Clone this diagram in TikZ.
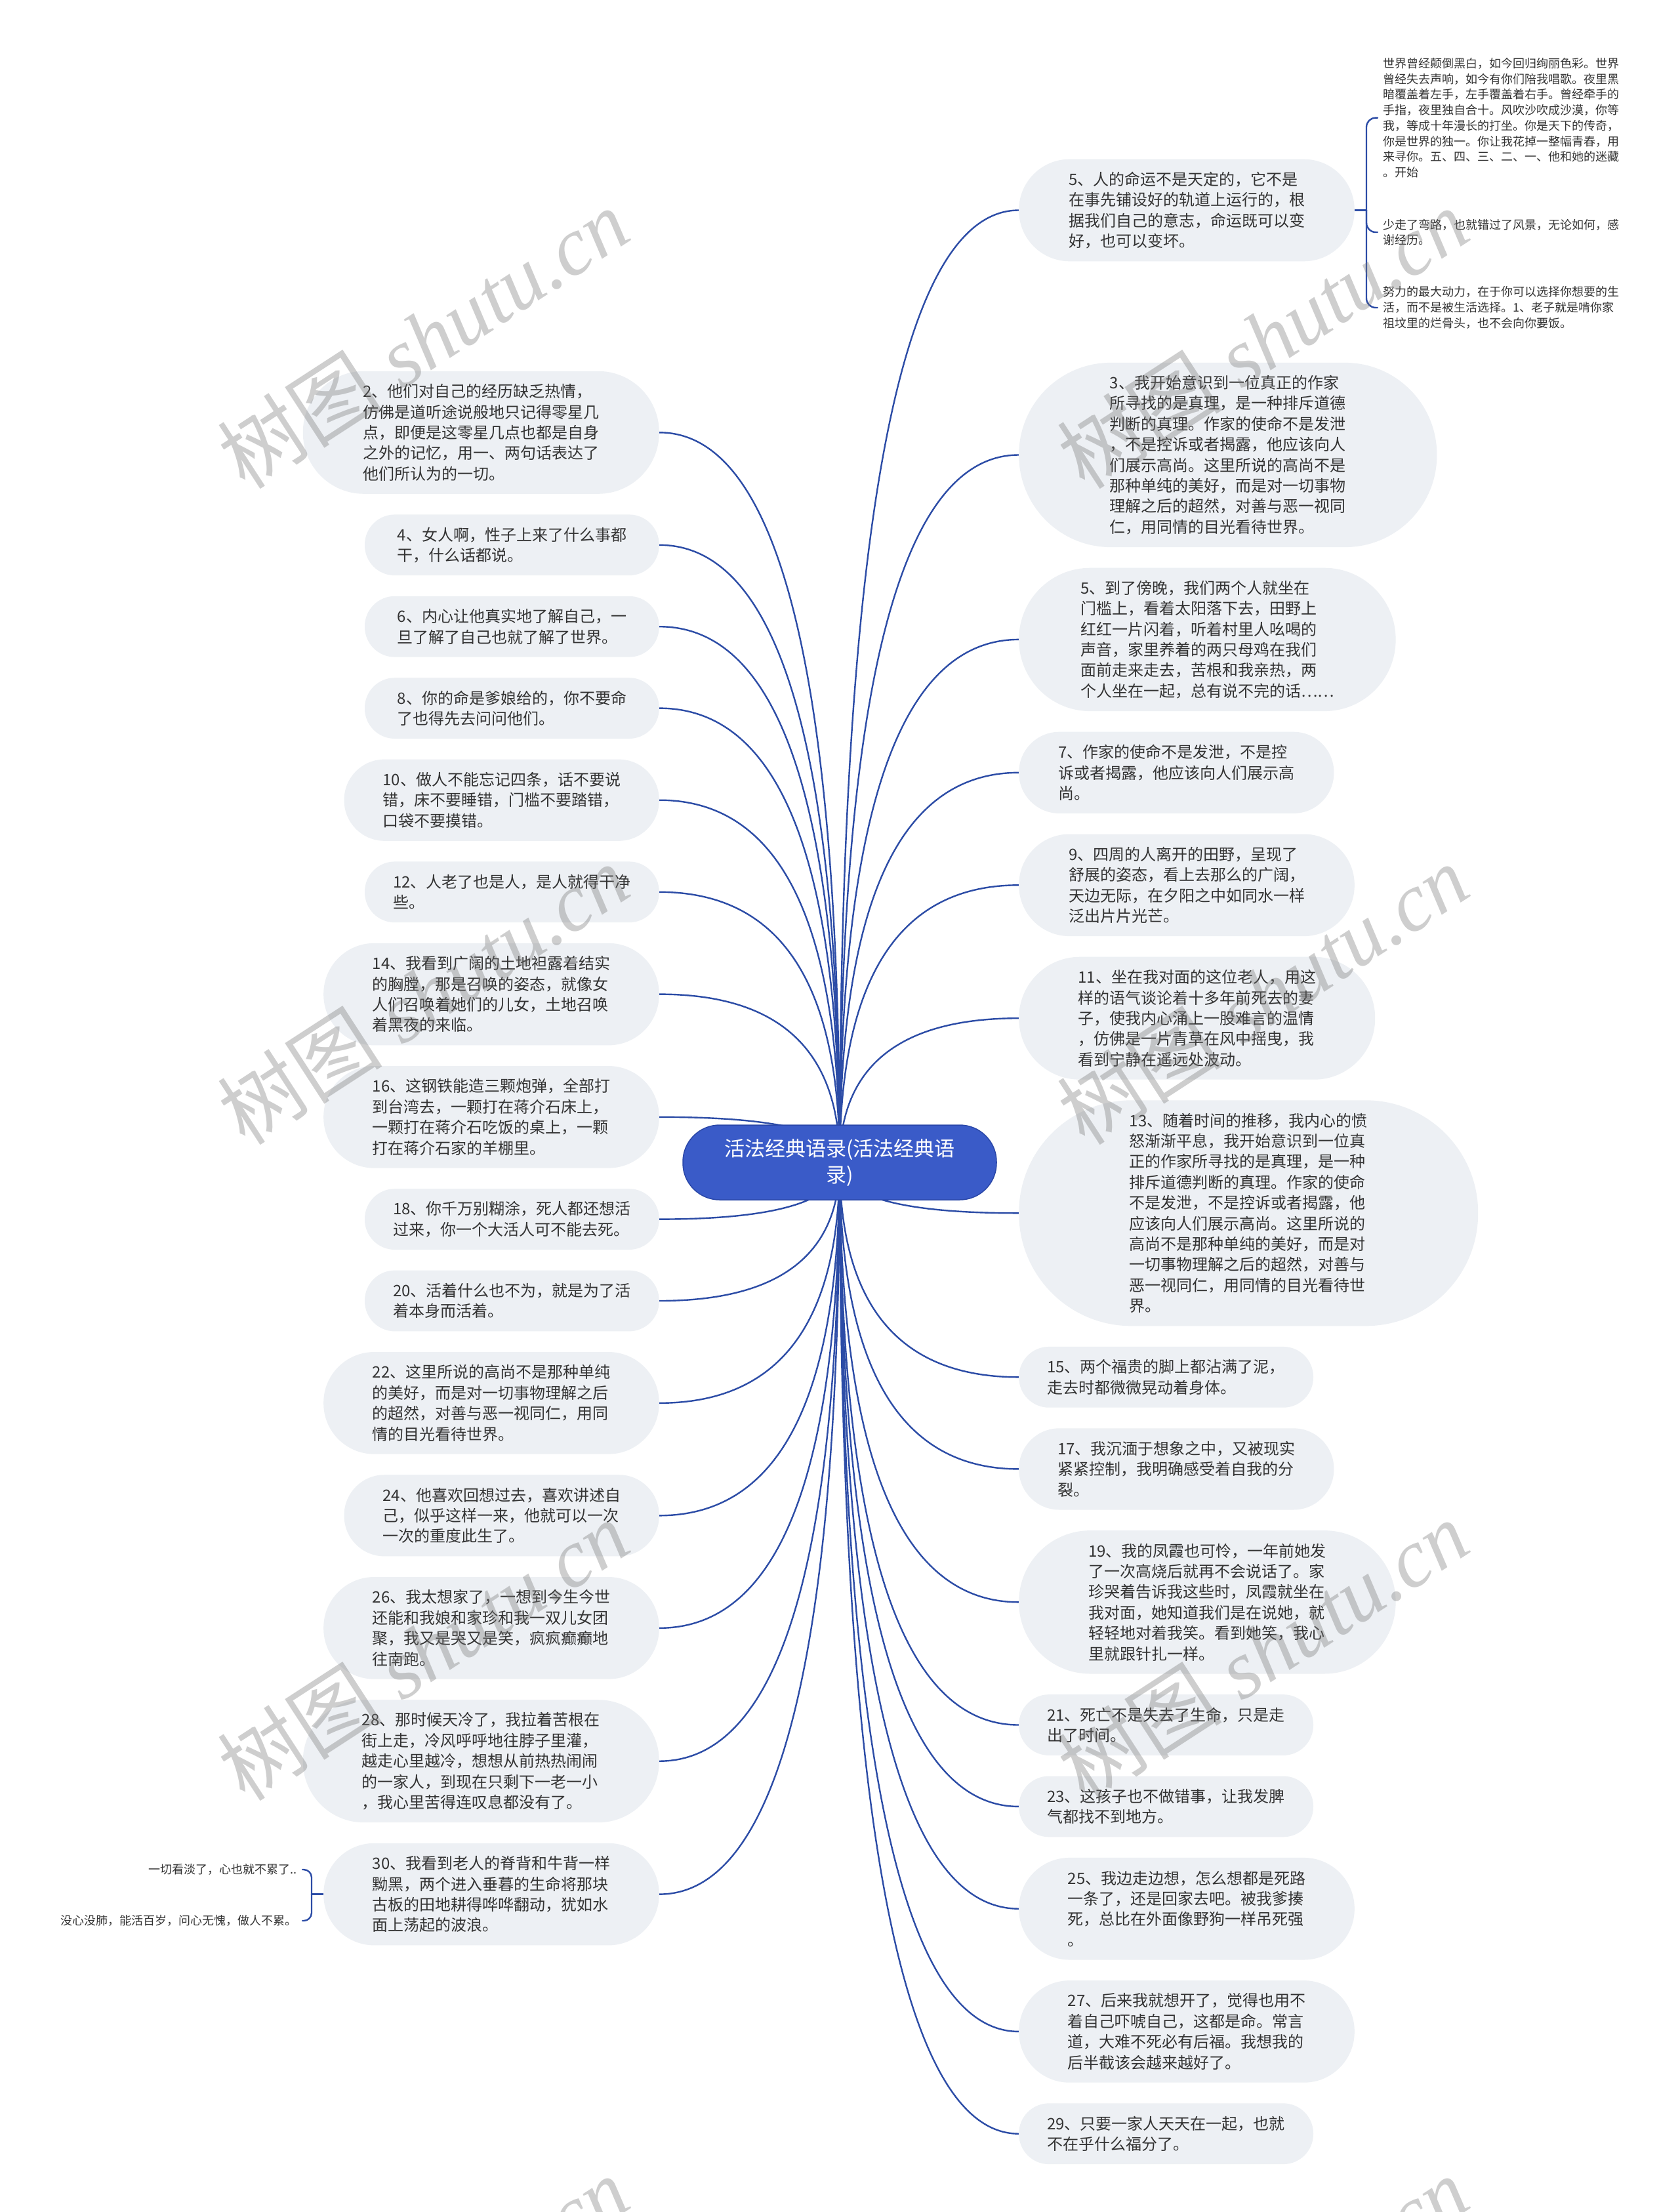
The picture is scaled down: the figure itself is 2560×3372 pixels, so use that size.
\documentclass[tikz,border=0pt]{standalone}
\usepackage{fontspec}
\setmainfont{Noto Sans CJK SC}
\newfontfamily\wmlatin{Liberation Serif}
\usetikzlibrary{calc}
\definecolor{nodefill}{HTML}{EDF0F4}
\definecolor{linkblue}{HTML}{2C4CA6}
\definecolor{ctrblue}{HTML}{3A5BC8}
\definecolor{ctrline}{HTML}{2A47A8}
\definecolor{txt}{HTML}{333333}
\pgfdeclarelayer{bg}\pgfdeclarelayer{fg}\pgfsetlayers{bg,main,fg}
\newcommand\topicfont{\fontsize{24}{31.4}\selectfont}
\newcommand\leaffont{\fontsize{18}{23.7}\selectfont}
\tikzset{
  topic/.style={fill=nodefill, text=txt, font=\topicfont, align=left, inner sep=0pt},
  leafnode/.style={text=txt, font=\leaffont, align=left, inner xsep=8pt, inner ysep=4pt},
  link/.style={draw=linkblue, line width=2.4pt, line cap=round},
  ctrnode/.style={fill=ctrblue, draw=ctrline, line width=1.5pt, text=white, font=\fontsize{31}{40}\selectfont, align=center, minimum width=478pt, minimum height=114pt, rounded corners=56pt, inner sep=0pt},
  wm/.style={text=black!55, text opacity=0.35, font=\fontsize{126}{130}\selectfont, rotate=33, inner sep=0pt}
}
\newcommand\tnode[6]{%
  \pgfmathsetmacro\hh{31.4*#5+30}%
  \pgfmathsetmacro\ww{356+\hh}%
  \pgfmathsetmacro\rr{\hh/2-0.5}%
  \node[topic, anchor=#2, minimum width=\ww pt, minimum height=\hh pt, rounded corners=\rr pt] (#1) at (#3,#4) {#6};%
}
\newcommand\mmlink[2]{%
  \coordinate (mmk) at (#1 |- #2);%
  \draw[link] (#1) .. controls ($(#1)!0.6667!(mmk)$) and ($(#2)!0.6667!(mmk)$) .. (#2);%
}
\begin{document}
\begin{tikzpicture}[x=1pt,y=-1pt]
\begin{pgfonlayer}{bg}
\fill[white] (0,0) rectangle (2560,3372);
\end{pgfonlayer}
\useasboundingbox (0,0) rectangle (2560,3372);

\node[ctrnode] (ctr) at (1280,1772) {活法经典语录(活法经典语\\录)};

% right side
\tnode{R5}{west}{1553}{320.5}{4}{5、人的命运不是天定的，它不是\\在事先铺设好的轨道上运行的，根\\据我们自己的意志，命运既可以变\\好，也可以变坏。}
\tnode{R3}{west}{1553}{693.5}{8}{3、我开始意识到一位真正的作家\\所寻找的是真理，是一种排斥道德\\判断的真理。作家的使命不是发泄\\，不是控诉或者揭露，他应该向人\\们展示高尚。这里所说的高尚不是\\那种单纯的美好，而是对一切事物\\理解之后的超然，对善与恶一视同\\仁，用同情的目光看待世界。}
\tnode{R5b}{west}{1553}{974.9}{6}{5、到了傍晚，我们两个人就坐在\\门槛上，看着太阳落下去，田野上\\红红一片闪着，听着村里人吆喝的\\声音，家里养着的两只母鸡在我们\\面前走来走去，苦根和我亲热，两\\个人坐在一起，总有说不完的话……}
\tnode{R7}{west}{1553}{1177.8}{3}{7、作家的使命不是发泄，不是控\\诉或者揭露，他应该向人们展示高\\尚。}
\tnode{R9}{west}{1553}{1349.3}{4}{9、四周的人离开的田野，呈现了\\舒展的姿态，看上去那么的广阔，\\天边无际，在夕阳之中如同水一样\\泛出片片光芒。}
\tnode{R11}{west}{1553}{1552.2}{5}{11、坐在我对面的这位老人，用这\\样的语气谈论着十多年前死去的妻\\子，使我内心涌上一股难言的温情\\，仿佛是一片青草在风中摇曳，我\\看到宁静在遥远处波动。}
\tnode{R13}{west}{1553}{1849.3}{10}{13、随着时间的推移，我内心的愤\\怒渐渐平息，我开始意识到一位真\\正的作家所寻找的是真理，是一种\\排斥道德判断的真理。作家的使命\\不是发泄，不是控诉或者揭露，他\\应该向人们展示高尚。这里所说的\\高尚不是那种单纯的美好，而是对\\一切事物理解之后的超然，对善与\\恶一视同仁，用同情的目光看待世\\界。}
\tnode{R15}{west}{1553}{2099.3}{2}{15、两个福贵的脚上都沾满了泥，\\走去时都微微晃动着身体。}
\tnode{R17}{west}{1553}{2239.4}{3}{17、我沉湎于想象之中，又被现实\\紧紧控制，我明确感受着自我的分\\裂。}
\tnode{R19}{west}{1553}{2442.3}{6}{19、我的凤霞也可怜，一年前她发\\了一次高烧后就再不会说话了。家\\珍哭着告诉我这些时，凤霞就坐在\\我对面，她知道我们是在说她，就\\轻轻地对着我笑。看到她笑，我心\\里就跟针扎一样。}
\tnode{R21}{west}{1553}{2629.5}{2}{21、死亡不是失去了生命，只是走\\出了时间。}
\tnode{R23}{west}{1553}{2753.9}{2}{23、这孩子也不做错事，让我发脾\\气都找不到地方。}
\tnode{R25}{west}{1553}{2909.7}{4}{25、我边走边想，怎么想都是死路\\一条了，还是回家去吧。被我爹揍\\死，总比在外面像野狗一样吊死强\\。}
\tnode{R27}{west}{1553}{3096.9}{4}{27、后来我就想开了，觉得也用不\\着自己吓唬自己，这都是命。常言\\道，大难不死必有后福。我想我的\\后半截该会越来越好了。}
\tnode{R29}{west}{1553}{3252.7}{2}{29、只要一家人天天在一起，也就\\不在乎什么福分了。}

% left side
\tnode{L2}{east}{1005}{659.3}{5}{2、他们对自己的经历缺乏热情，\\仿佛是道听途说般地只记得零星几\\点，即便是这零星几点也都是自身\\之外的记忆，用一、两句话表达了\\他们所认为的一切。}
\tnode{L4}{east}{1005}{830.8}{2}{4、女人啊，性子上来了什么事都\\干，什么话都说。}
\tnode{L6}{east}{1005}{955.2}{2}{6、内心让他真实地了解自己，一\\旦了解了自己也就了解了世界。}
\tnode{L8}{east}{1005}{1079.6}{2}{8、你的命是爹娘给的，你不要命\\了也得先去问问他们。}
\tnode{L10}{east}{1005}{1219.7}{3}{10、做人不能忘记四条，话不要说\\错，床不要睡错，门槛不要踏错，\\口袋不要摸错。}
\tnode{L12}{east}{1005}{1359.8}{2}{12、人老了也是人，是人就得干净\\些。}
\tnode{L14}{east}{1005}{1515.6}{4}{14、我看到广阔的土地袒露着结实\\的胸膛，那是召唤的姿态，就像女\\人们召唤着她们的儿女，土地召唤\\着黑夜的来临。}
\tnode{L16}{east}{1005}{1702.8}{4}{16、这钢铁能造三颗炮弹，全部打\\到台湾去，一颗打在蒋介石床上，\\一颗打在蒋介石吃饭的桌上，一颗\\打在蒋介石家的羊棚里。}
\tnode{L18}{east}{1005}{1858.6}{2}{18、你千万别糊涂，死人都还想活\\过来，你一个大活人可不能去死。}
\tnode{L20}{east}{1005}{1983.0}{2}{20、活着什么也不为，就是为了活\\着本身而活着。}
\tnode{L22}{east}{1005}{2138.8}{4}{22、这里所说的高尚不是那种单纯\\的美好，而是对一切事物理解之后\\的超然，对善与恶一视同仁，用同\\情的目光看待世界。}
\tnode{L24}{east}{1005}{2310.3}{3}{24、他喜欢回想过去，喜欢讲述自\\己，似乎这样一来，他就可以一次\\一次的重度此生了。}
\tnode{L26}{east}{1005}{2481.8}{4}{26、我太想家了，一想到今生今世\\还能和我娘和家珍和我一双儿女团\\聚，我又是哭又是笑，疯疯癫癫地\\往南跑。}
\tnode{L28}{east}{1005}{2684.7}{5}{28、那时候天冷了，我拉着苦根在\\街上走，冷风呼呼地往脖子里灌，\\越走心里越冷，想想从前热热闹闹\\的一家人，到现在只剩下一老一小\\，我心里苦得连叹息都没有了。}
\tnode{L30}{east}{1005}{2887.6}{4}{30、我看到老人的脊背和牛背一样\\黝黑，两个进入垂暮的生命将那块\\古板的田地耕得哗哗翻动，犹如水\\面上荡起的波浪。}

% leaves of R5
\node[leafnode, anchor=west] (ra) at (2100,179.6) {世界曾经颠倒黑白，如今回归绚丽色彩。世界\\曾经失去声响，如今有你们陪我唱歌。夜里黑\\暗覆盖着左手，左手覆盖着右手。曾经牵手的\\手指，夜里独自合十。风吹沙吹成沙漠，你等\\我，等成十年漫长的打坐。你是天下的传奇，\\你是世界的独一。你让我花掉一整幅青春，用\\来寻你。五、四、三、二、一、他和她的迷藏\\。开始};
\node[leafnode, anchor=west] (rb) at (2100,354) {少走了弯路，也就错过了风景，无论如何，感\\谢经历。};
\node[leafnode, anchor=west] (rc) at (2100,469) {努力的最大动力，在于你可以选择你想要的生\\活，而不是被生活选择。1、老子就是啃你家\\祖坟里的烂骨头，也不会向你要饭。};
% leaves of L30
\node[leafnode, anchor=east, align=right] (la) at (461,2850) {一切看淡了，心也就不累了..};
\node[leafnode, anchor=east, align=right] (lb) at (461,2928) {没心没肺，能活百岁，问心无愧，做人不累。};

\begin{pgfonlayer}{bg}
\foreach \t in {R5,R3,R5b,R7,R9,R11,R13,R15,R17,R19,R21,R23,R25,R27,R29}{\mmlink{ctr.center}{\t.west}}
\foreach \t in {L2,L4,L6,L8,L10,L12,L14,L16,L18,L20,L22,L24,L26,L28,L30}{\mmlink{ctr.center}{\t.east}}
\coordinate (r5j) at ($(R5.east)+(18,0)$);
\draw[link] (R5.east) -- (r5j);
\draw[link, rounded corners=14pt] (r5j) |- (ra.west);
\draw[link, rounded corners=14pt] (r5j) |- (rb.west);
\draw[link, rounded corners=14pt] (r5j) |- (rc.west);
\coordinate (l30j) at ($(L30.west)+(-18,0)$);
\draw[link] (L30.west) -- (l30j);
\draw[link, rounded corners=12pt] (l30j) |- (la.east);
\draw[link, rounded corners=12pt] (l30j) |- (lb.east);
\end{pgfonlayer}

\begin{pgfonlayer}{fg}
\begin{scope}
\clip (0,0) rectangle (2560,3372);
\foreach \px/\py [count=\i] in {645/516,1925/516,645/1516,1925/1516,645/2516,1925/2516,645/3516,1925/3516}{
  \node[wm] (wm\i) at (\px,\py) {树图\hspace{0.25em}{\wmlatin\itshape shutu.cn}};
}
\end{scope}
\end{pgfonlayer}
\end{tikzpicture}
\end{document}
